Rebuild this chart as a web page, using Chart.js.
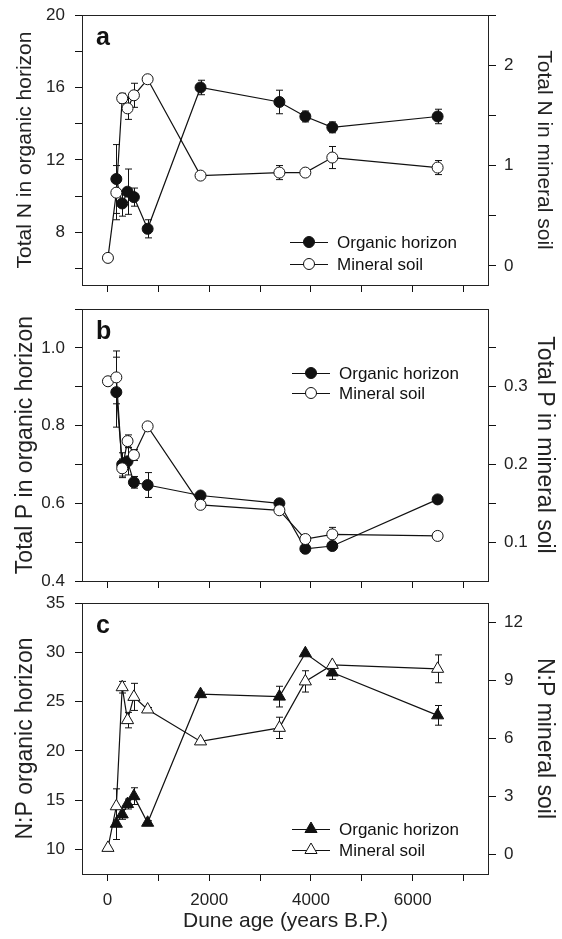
<!DOCTYPE html>
<html>
<head>
<meta charset="utf-8">
<script src="https://cdn.jsdelivr.net/npm/chart.js@4.4.0/dist/chart.umd.min.js"></script>
<style>
  html, body { margin: 0; padding: 0; background: #fff; }
  #wrap { position: relative; width: 562px; height: 939px; }
  #wrap canvas { position: absolute; left: 0; }
</style>
</head>
<body>
<div id="wrap">
  <canvas id="chartA" width="562" height="297" style="top:0px"></canvas>
  <canvas id="chartB" width="562" height="296" style="top:296px"></canvas>
  <canvas id="chartC" width="562" height="347" style="top:592px"></canvas>
</div>
<script>
const FONT = "'Liberation Sans', Arial, sans-serif";

// sampling ages (years B.P.)
const ageOrganic = [175, 290, 395, 520, 790, 1830, 3380, 3890, 4420, 6490];
const ageMineral = [10, 175, 290, 395, 520, 790, 1830, 3380, 3890, 4420, 6490];
const ageTicks = [0, 1000, 2000, 3000, 4000, 5000, 6000, 7000];
const ageLabels = [0, 2000, 4000, 6000];

// panel a - total N
const nOrganic = [10.95, 9.6, 10.25, 9.95, 8.2, 16.0, 15.2, 14.4, 13.8, 14.4];
const nOrganicErr = [1.9, 0.7, 1.25, 0.5, 0.5, 0.4, 0.65, 0.3, 0.3, 0.4];
const nMineral = [0.08, 0.73, 1.67, 1.57, 1.7, 1.86, 0.9, 0.93, 0.93, 1.08, 0.98];
const nMineralErr = [0, 0.27, 0.05, 0.11, 0.12, 0, 0, 0.07, 0, 0.11, 0.07];
const nOrgTicks = [6, 8, 10, 12, 14, 16, 18, 20];
const nOrgLabels = [8, 12, 16, 20];
const nMinTicks = [0, 0.5, 1, 1.5, 2, 2.5];
const nMinLabels = [0, 1, 2];

// panel b - total P
const pOrganic = [0.886, 0.7, 0.708, 0.654, 0.647, 0.62, 0.6, 0.483, 0.49, 0.61];
const pOrganicErr = [0.09, 0.03, 0.035, 0.015, 0.032, 0, 0, 0, 0, 0];
const pMineral = [0.307, 0.312, 0.195, 0.23, 0.212, 0.249, 0.148, 0.141, 0.104, 0.11, 0.108];
const pMineralErr = [0, 0.034, 0.012, 0.008, 0.007, 0, 0, 0, 0, 0.009, 0];
const pOrgTicks = [0.4, 0.5, 0.6, 0.7, 0.8, 0.9, 1.0, 1.1];
const pOrgLabels = [0.4, 0.6, 0.8, 1.0];
const pMinTicks = [0.1, 0.15, 0.2, 0.25, 0.3, 0.35];
const pMinLabels = [0.1, 0.2, 0.3];

// panel c - N:P
const npOrganic = [12.6, 13.55, 14.6, 15.4, 12.7, 25.75, 25.5, 29.9, 27.95, 23.6];
const npOrganicErr = [1.6, 0.5, 0.5, 0.85, 0.2, 0.2, 1.05, 0, 0.7, 1.0];
const npMineral = [0.35, 2.5, 8.65, 6.95, 8.15, 7.5, 5.85, 6.55, 8.95, 9.8, 9.6];
const npMineralErr = [0, 0.9, 0.3, 0.4, 0.7, 0.1, 0, 0.55, 0.55, 0, 0.72];
const npOrgTicks = [10, 15, 20, 25, 30, 35];
const npMinTicks = [0, 3, 6, 9, 12];

const has = (arr, v) => arr.some(a => Math.abs(a - v) < 1e-9);

function drawMarker(ctx, style, filled, x, y, r) {
  ctx.beginPath();
  if (style === 'triangle') {
    let rad = 0;
    ctx.moveTo(x + Math.sin(rad) * r, y - Math.cos(rad) * r);
    rad += 2 * Math.PI / 3;
    ctx.lineTo(x + Math.sin(rad) * r, y - Math.cos(rad) * r);
    rad += 2 * Math.PI / 3;
    ctx.lineTo(x + Math.sin(rad) * r, y - Math.cos(rad) * r);
    ctx.closePath();
  } else {
    ctx.arc(x, y, r, 0, Math.PI * 2);
  }
  ctx.fillStyle = filled ? '#111' : '#fff';
  ctx.fill();
  ctx.lineWidth = 1;
  ctx.strokeStyle = '#111';
  ctx.stroke();
}

// frame, error bars, panel letter and legend
const deco = {
  id: 'deco',
  beforeDatasetsDraw(chart, args, opts) {
    const ctx = chart.ctx;
    const a = chart.chartArea;
    ctx.save();
    ctx.strokeStyle = '#222';
    ctx.lineWidth = 1;
    ctx.strokeRect(Math.round(a.left) + 0.5, Math.round(a.top) + 0.5,
      Math.round(a.right - a.left) - 1, Math.round(a.bottom - a.top));
    ctx.strokeStyle = '#111';
    chart.data.datasets.forEach((ds, i) => {
      const meta = chart.getDatasetMeta(i);
      const ys = chart.scales[ds.yAxisID];
      meta.data.forEach((pt, j) => {
        const e = ds.errorBars[j];
        if (!e) return;
        const v = ds.data[j].y;
        const y1 = ys.getPixelForValue(v + e);
        const y2 = ys.getPixelForValue(v - e);
        const x = Math.round(pt.x) + 0.5;
        ctx.beginPath();
        ctx.moveTo(x, y1); ctx.lineTo(x, y2);
        ctx.moveTo(x - 3.5, y1); ctx.lineTo(x + 3.5, y1);
        ctx.moveTo(x - 3.5, y2); ctx.lineTo(x + 3.5, y2);
        ctx.stroke();
      });
    });
    ctx.restore();
  },
  afterDraw(chart, args, opts) {
    const ctx = chart.ctx;
    const a = chart.chartArea;
    ctx.save();
    ctx.fillStyle = '#111';
    ctx.font = 'bold 25px ' + FONT;
    ctx.textBaseline = 'alphabetic';
    ctx.fillText(opts.letter, a.left + 14, a.top + 30);
    const lg = opts.legend;
    ctx.font = '17px ' + FONT;
    ctx.textBaseline = 'middle';
    chart.data.datasets.forEach((ds, k) => {
      const y = lg.y[k];
      ctx.beginPath();
      ctx.strokeStyle = '#111';
      ctx.lineWidth = 1;
      ctx.moveTo(lg.x, y + 0.5); ctx.lineTo(lg.x + 38, y + 0.5);
      ctx.stroke();
      drawMarker(ctx, ds.pointStyle, ds.filled, lg.x + 19, y, ds.pointRadius);
      ctx.fillStyle = '#111';
      ctx.fillText(ds.label, lg.x + 47, y + 1);
    });
    ctx.restore();
  }
};

function series(label, ages, vals, errs, axis, style, filled, order) {
  return {
    label: label,
    data: ages.map((x, i) => ({ x: x, y: vals[i] })),
    errorBars: errs,
    filled: filled,
    yAxisID: axis,
    showLine: true,
    borderColor: '#111',
    borderWidth: 1.2,
    pointStyle: style,
    pointRadius: style === 'triangle' ? 7 : 5.5,
    pointBorderWidth: 1,
    pointBorderColor: '#111',
    pointBackgroundColor: filled ? '#111' : '#fff',
    tension: 0,
    order: order
  };
}

function yAxis(pos, min, max, ticks, labels, digits, title, titleSize, titlePad) {
  return {
    type: 'linear',
    position: pos,
    min: min,
    max: max,
    afterBuildTicks: ax => { ax.ticks = ticks.map(v => ({ value: v })); },
    afterFit: ax => {
      ax.width = pos === 'left' ? 82 : 73;
      ax.paddingTop = 0;
      ax.paddingBottom = 0;
    },
    border: { display: false },
    grid: { drawOnChartArea: false, drawTicks: true, tickLength: 7, color: '#111' },
    ticks: {
      autoSkip: false,
      padding: pos === 'left' ? 10 : 8,
      color: '#222',
      font: { size: 17, family: FONT },
      callback: v => has(labels, v) ? v.toFixed(digits) : ''
    },
    title: {
      display: true, text: title, color: '#222',
      font: { size: titleSize, family: FONT },
      padding: { top: titlePad, bottom: 0 }
    }
  };
}

function xAxis(showLabels, height) {
  return {
    type: 'linear',
    position: 'bottom',
    min: -500,
    max: 7500,
    afterBuildTicks: ax => { ax.ticks = ageTicks.map(v => ({ value: v })); },
    afterFit: ax => {
      ax.height = height;
      ax.paddingLeft = 0;
      ax.paddingRight = 0;
    },
    border: { display: false },
    grid: { drawOnChartArea: false, drawTicks: true, tickLength: 7, color: '#111' },
    ticks: {
      autoSkip: false, maxRotation: 0, padding: 9, color: '#222',
      font: { size: 17, family: FONT },
      callback: v => (showLabels && has(ageLabels, v)) ? String(v) : ''
    },
    title: {
      display: showLabels, text: 'Dune age (years B.P.)', color: '#222',
      font: { size: 21, family: FONT },
      padding: { top: 0, bottom: 5 }
    }
  };
}

function panel(id, padTop, xHeight, showX, datasets, yl, yr, deco_opts) {
  new Chart(document.getElementById(id), {
    type: 'scatter',
    data: { datasets: datasets },
    options: {
      responsive: false,
      animation: false,
      layout: { padding: { top: padTop, left: 0, right: 0, bottom: 0 } },
      plugins: { legend: { display: false }, tooltip: { enabled: false }, deco: deco_opts },
      scales: { x: xAxis(showX, xHeight), yL: yl, yR: yr }
    },
    plugins: [deco]
  });
}

panel('chartA', 15, 12, false, [
    series('Organic horizon', ageOrganic, nOrganic, nOrganicErr, 'yL', 'circle', true, 1),
    series('Mineral soil', ageMineral, nMineral, nMineralErr, 'yR', 'circle', false, 0)
  ],
  yAxis('left', 5.1, 20, nOrgTicks, nOrgLabels, 0, 'Total N in organic horizon', 21, 13),
  yAxis('right', -0.19, 2.5, nMinTicks, nMinLabels, 0, 'Total N in mineral soil', 21, 6),
  { letter: 'a', legend: { x: 290, y: [242, 264] } });

panel('chartB', 13, 11, false, [
    series('Organic horizon', ageOrganic, pOrganic, pOrganicErr, 'yL', 'circle', true, 1),
    series('Mineral soil', ageMineral, pMineral, pMineralErr, 'yR', 'circle', false, 0)
  ],
  yAxis('left', 0.4, 1.1, pOrgTicks, pOrgLabels, 1, 'Total P in organic horizon', 23, 12),
  yAxis('right', 0.05, 0.4, pMinTicks, pMinLabels, 1, 'Total P in mineral soil', 23, 4),
  { letter: 'b', legend: { x: 292, y: [77, 97] } });

panel('chartC', 11, 65, true, [
    series('Organic horizon', ageOrganic, npOrganic, npOrganicErr, 'yL', 'triangle', true, 1),
    series('Mineral soil', ageMineral, npMineral, npMineralErr, 'yR', 'triangle', false, 0)
  ],
  yAxis('left', 7.5, 35, npOrgTicks, npOrgTicks, 0, 'N:P organic horizon', 23, 12),
  yAxis('right', -1, 13, npMinTicks, npMinTicks, 0, 'N:P mineral soil', 23, 4),
  { letter: 'c', legend: { x: 292, y: [237, 258] } });
</script>
</body>
</html>
